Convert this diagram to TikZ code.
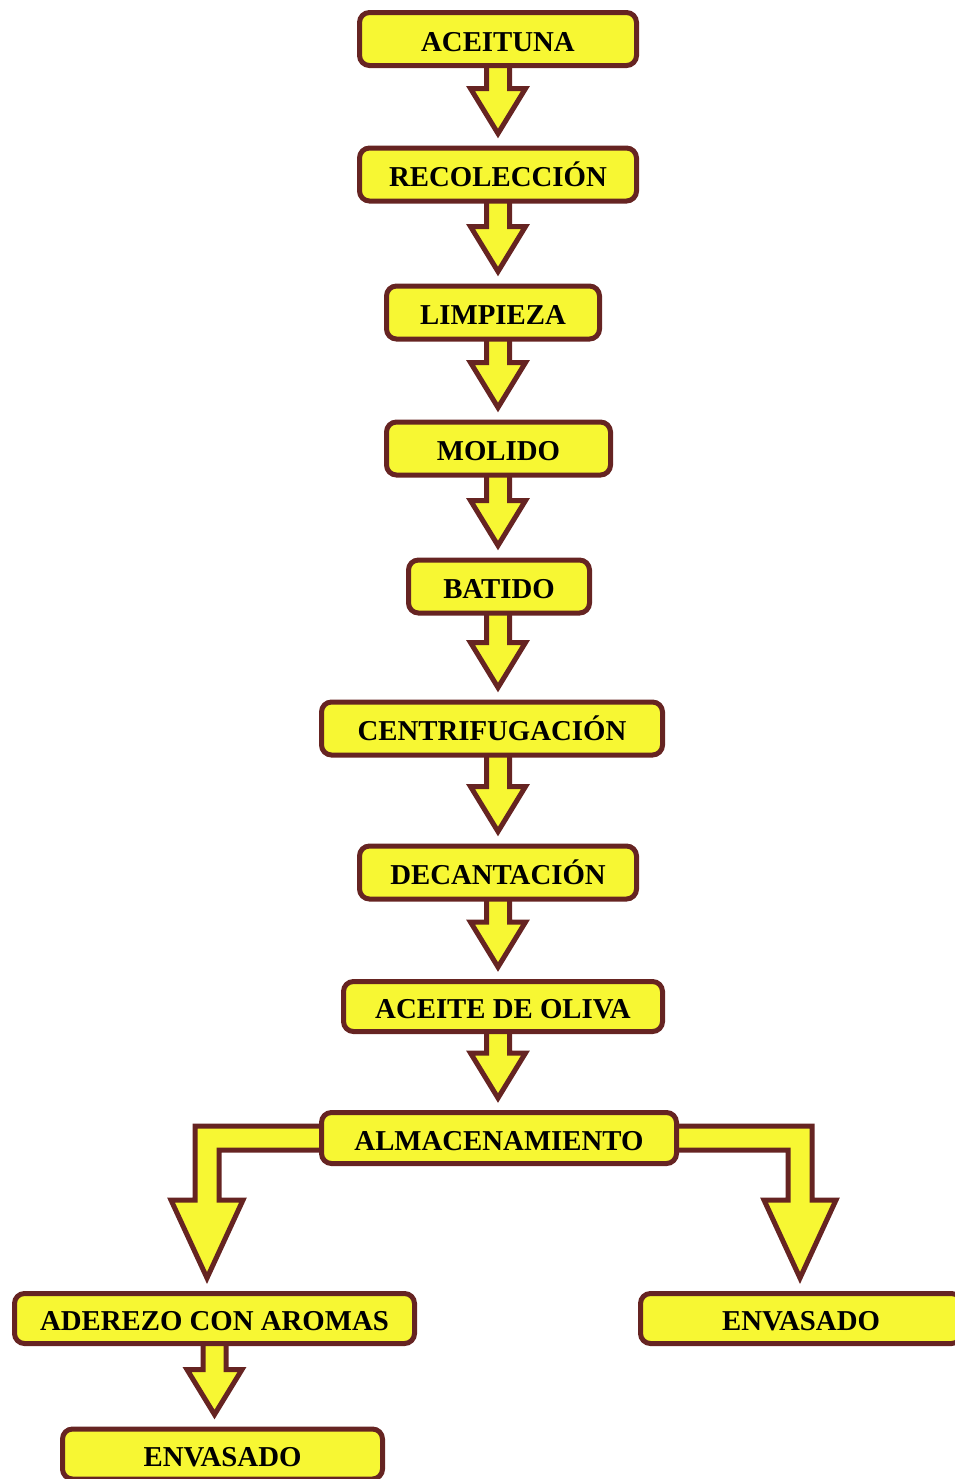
\documentclass[tikz,border=0pt]{standalone}
\usepackage{fontspec}
\setmainfont{Liberation Serif}
\usepackage{tikz}
\usetikzlibrary{calc, backgrounds}
\usepackage{xcolor}
\definecolor{fillyellow}{RGB}{247,247,51}
\definecolor{maroon}{RGB}{102,36,34}

\tikzset{
  caja/.style={draw=maroon, fill=fillyellow, line width=2.5pt, rounded corners=5pt,
    minimum height=26.5pt, inner sep=0pt, text=black, text height=12pt, text depth=0pt,
    font=\fontsize{14.4}{17}\selectfont\bfseries},
  flecha/.style={draw=maroon, fill=fillyellow, line width=2.5pt, line join=miter}
}

% straight block arrow from #1 down to #2, on the column of #3
\newcommand{\flecha}[3]{%
  \coordinate (fA) at ($(#1.south -| #3)+(0,-6)$);
  \coordinate (fT) at ($(#2.north -| #3)+(0,-12)$);
  \coordinate (fB) at ($(fT)+(0,-45)$);
  \draw[flecha] ($(fA)+(-11.5,0)$) -- ($(fB)+(-11.5,0)$) -- ($(fB)+(-27.5,0)$) -- (fT)
    -- ($(fB)+(27.5,0)$) -- ($(fB)+(11.5,0)$) -- ($(fA)+(11.5,0)$) -- cycle;
}

% bent block arrow from side anchor #1 to node #2, turning on column #3, side #4 (-1 left, 1 right)
\newcommand{\flechacodo}[4]{%
  \coordinate (cS) at (#1);
  \coordinate (cC) at (#1 -| #3);
  \coordinate (cT) at ($(#2.north -| #3)+(0,-13)$);
  \coordinate (cB) at ($(cT)+(0,-78)$);
  \draw[flecha] ($(cS)+({0-(#4)*6},-12)$) -- ($(cC)+({(#4)*12},-12)$) -- ($(cB)+({(#4)*12},0)$)
    -- ($(cB)+({(#4)*36},0)$) -- (cT) -- ($(cB)+({0-(#4)*36},0)$) -- ($(cB)+({0-(#4)*12},0)$)
    -- ($(cC)+({0-(#4)*12},12)$) -- ($(cS)+({0-(#4)*6},12)$) -- cycle;
}

\begin{document}
\begin{tikzpicture}[x=0.5pt, y=-0.5pt]
  \useasboundingbox (0,0) rectangle (954,1479);

  % columns of the arrows
  \coordinate (eje) at (498,0);
  \coordinate (colizq) at (207,0);
  \coordinate (colder) at (800,0);

  % process steps
  \node[caja, minimum width=138.5pt] (aceituna) at (498,39) {ACEITUNA};
  \node[caja, minimum width=138.5pt] (recoleccion) at (498,174.5) {RECOLECCIÓN};
  \node[caja, minimum width=106.5pt] (limpieza) at (493,312.5) {LIMPIEZA};
  \node[caja, minimum width=112pt] (molido) at (498.5,448.5) {MOLIDO};
  \node[caja, minimum width=90.5pt] (batido) at (499,586.5) {BATIDO};
  \node[caja, minimum width=170.5pt] (centrif) at (492,728.5) {CENTRIFUGACIÓN};
  \node[caja, minimum width=138.5pt] (decant) at (498,872.5) {DECANTACIÓN};
  \node[caja, minimum width=159.5pt, minimum height=25pt] (aceite) at (503,1006.5) {ACEITE DE OLIVA};
  \node[caja, minimum width=177.5pt, minimum height=25.5pt] (almac) at (499,1138) {ALMACENAMIENTO};
  \node[caja, minimum width=200pt, minimum height=25pt] (aderezo) at (214.5,1318.5) {ADEREZO CON AROMAS};
  \node[caja, minimum width=160.5pt, minimum height=25pt] (envder) at (801,1318.5) {ENVASADO};
  \node[caja, minimum width=160pt, minimum height=25pt] (envizq) at (222.5,1454) {ENVASADO};

  % arrows behind the boxes
  \begin{scope}[on background layer]
    \flecha{aceituna}{recoleccion}{eje}
    \flecha{recoleccion}{limpieza}{eje}
    \flecha{limpieza}{molido}{eje}
    \flecha{molido}{batido}{eje}
    \flecha{batido}{centrif}{eje}
    \flecha{centrif}{decant}{eje}
    \flecha{decant}{aceite}{eje}
    \flecha{aceite}{almac}{eje}
    \flechacodo{almac.west}{aderezo}{colizq}{-1}
    \flechacodo{almac.east}{envder}{colder}{1}
    \flecha{aderezo}{envizq}{aderezo}
  \end{scope}
\end{tikzpicture}
\end{document}
